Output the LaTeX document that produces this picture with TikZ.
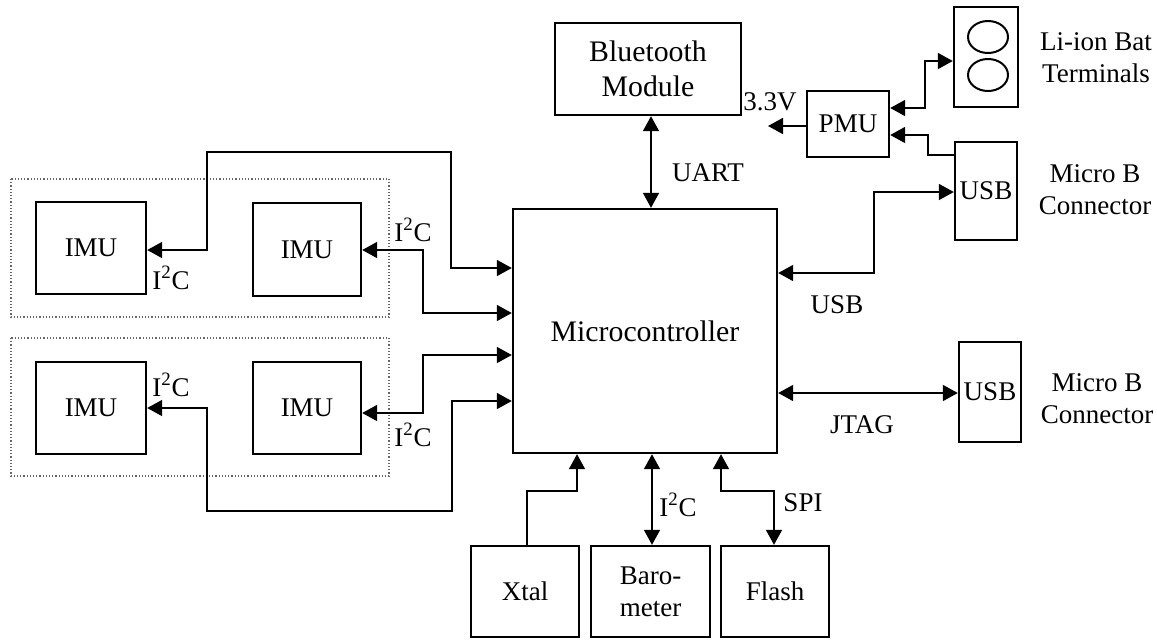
\documentclass[tikz,border=0pt]{standalone}
\usepackage{fontspec}
\setmainfont{Liberation Serif}
\usetikzlibrary{arrows.meta}
\tikzset{
  box/.style={draw, line width=1.2pt, inner sep=0pt, align=center, font=\fontsize{13.5}{16}\selectfont},
  bigtext/.style={font=\fontsize{14.9}{17.5}\selectfont},
  grp/.style={draw=black!60, densely dotted, line width=0.6pt},
  wire/.style={line width=0.9pt},
  tip/.tip={Triangle[length=7.5pt, width=8pt]},
  fw/.style={wire, -tip},
  bw/.style={wire, tip-tip},
  lbl/.style={font=\fontsize{13.5}{16}\selectfont, inner sep=0pt, align=center},
}
\newcommand{\iic}{I\textsuperscript{2}C}
\begin{document}
\begin{tikzpicture}[x=0.5pt, y=-0.5pt]
\useasboundingbox (0,0) rectangle (1157,639);
% groups
\draw[grp] (11,179) rectangle (389,317);
\draw[grp] (11,338) rectangle (389,476);
% boxes
\node[box, bigtext, minimum width=132pt, minimum height=122pt] (micro) at (645,331) {Microcontroller};
\node[box, bigtext, minimum width=93pt, minimum height=46pt] (bt) at (648,69) {Bluetooth\\Module};
\node[box, minimum width=41pt, minimum height=33pt] (pmu) at (848,124) {PMU};
\node[box, minimum width=32pt, minimum height=50pt] (bat) at (986,57) {};
\draw[line width=1pt] (988,37) ellipse [x radius=20, y radius=16];
\draw[line width=1pt] (988,75) ellipse [x radius=20, y radius=16];
\node[box, minimum width=31pt, minimum height=49pt] (usb1) at (986,191) {USB};
\node[box, minimum width=31pt, minimum height=50pt] (usb2) at (990,392) {USB};
\node[box, minimum width=54pt, minimum height=45.5pt] (xtal) at (525,591.5) {Xtal};
\node[box, minimum width=59.5pt, minimum height=45.5pt] (baro) at (650.5,591.5) {Baro-\\meter};
\node[box, minimum width=54pt, minimum height=45.5pt] (flash) at (775,591.5) {Flash};
\node[box, minimum width=55pt, minimum height=46pt] (imu1) at (91,248) {IMU};
\node[box, minimum width=54pt, minimum height=46.5pt] (imu2) at (307,249.5) {IMU};
\node[box, minimum width=55pt, minimum height=46pt] (imu3) at (91,408) {IMU};
\node[box, minimum width=54pt, minimum height=46pt] (imu4) at (307,408) {IMU};
% side labels
\node[lbl] (batlbl) at (1096,58) {Li-ion Bat\\Terminals};
\node[lbl] (usb1lbl) at (1095,190) {Micro B\\Connector};
\node[lbl] (usb2lbl) at (1097,399) {Micro B\\Connector};
% connectors
\draw[bw] (imu1.east |- 0,250) -| (207,152) -| (451,268) -- (micro.west |- 0,268);
\draw[bw] (imu2.east |- 0,250) -| (423,313) -- (micro.west |- 0,313);
\draw[bw] (imu4.east |- 0,413) -| (423,355) -- (micro.west |- 0,355);
\draw[bw] (imu3.east |- 0,408) -| (207,511) -| (452,401) -- (micro.west |- 0,401);
\draw[bw] (bt.south -| 651,0) -- (micro.north -| 651,0);
\coordinate (v33) at (768,126);
\draw[fw] (pmu.west |- 0,126) -- (v33);
\draw[bw] (pmu.east |- 0,108) -| (925,61) -- (bat.west |- 0,61);
\draw[fw] (usb1.west |- 0,155) -| (928,135) -- (pmu.east |- 0,135);
\draw[bw] (micro.east |- 0,273) -| (874,192) -- (usb1.west |- 0,192);
\draw[bw] (micro.east |- 0,393) -- (usb2.west |- 0,393);
\draw[fw] (xtal.north -| 527,0) |- (577,491) -- (micro.south -| 577,0);
\draw[bw] (baro.north -| 652,0) -- (micro.south -| 652,0);
\draw[bw] (micro.south -| 721,0) |- (774,491) -- (flash.north -| 774,0);
% connector labels
\node[lbl] (l1) at (171,278) {\iic};
\node[lbl] (l2) at (413,230) {\iic};
\node[lbl] (l3) at (171,385) {\iic};
\node[lbl] (l4) at (413,435) {\iic};
\node[lbl] (l5) at (678,505) {\iic};
\node[lbl] (uart) at (708,173) {UART};
\node[lbl] (v) at (770,102) {3.3V};
\node[lbl] (usbl) at (837,305) {USB};
\node[lbl] (jtag) at (862,425) {JTAG};
\node[lbl] (spi) at (803,503) {SPI};
\end{tikzpicture}
\end{document}
